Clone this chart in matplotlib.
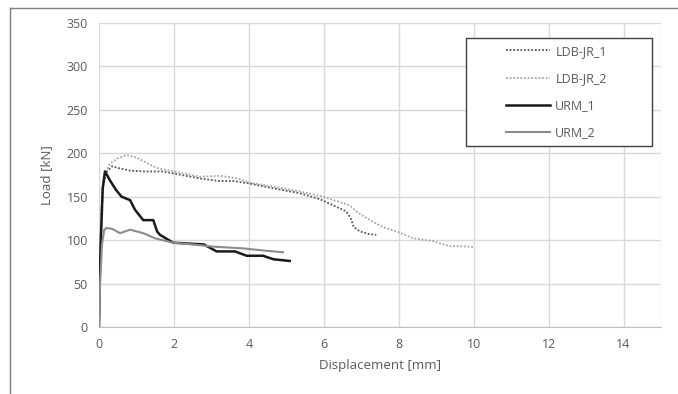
import matplotlib
matplotlib.use("Agg")
import matplotlib.pyplot as plt
from matplotlib.lines import Line2D
from matplotlib.patches import Rectangle

plt.rcParams['font.family'] = ['Open Sans', 'DejaVu Sans']

# LDB-JR_1
ldb1_x = [0, 0.02, 0.05, 0.1, 0.2, 0.35, 0.5, 0.83, 1.2, 1.71, 2.2, 2.69, 3.2, 3.6, 4.03, 4.6, 5.36, 5.9, 6.25, 6.6, 6.72, 6.8, 6.96, 7.2, 7.4]
ldb1_y = [0, 60, 120, 160, 178, 185, 183, 180, 179, 179, 175, 171, 168, 168, 165, 160, 154, 147, 140, 133, 125, 115, 110, 107, 106]
# LDB-JR_2
ldb2_x = [0, 0.03, 0.06, 0.12, 0.2, 0.29, 0.5, 0.74, 1.0, 1.54, 2.0, 2.69, 3.23, 3.7, 4.03, 4.6, 5.36, 5.98, 6.69, 6.9, 7.23, 7.58, 8.0, 8.38, 8.9, 9.36, 9.7, 9.98]
ldb2_y = [0, 70, 130, 165, 180, 188, 194, 198, 195, 183, 179, 173, 174, 171, 166, 162, 156, 150, 140, 132, 123, 115, 109, 102, 99, 93, 93, 92]
# URM_1
urm1_x = [0, 0.02, 0.05, 0.1, 0.16, 0.29, 0.45, 0.6, 0.83, 0.96, 1.18, 1.45, 1.55, 1.63, 1.98, 2.4, 2.8, 3.14, 3.63, 3.94, 4.38, 4.65, 5.09]
urm1_y = [0, 60, 100, 160, 179, 169, 158, 150, 146, 135, 123, 123, 110, 106, 97, 96, 95, 87, 87, 82, 82, 78, 76]
# URM_2
urm2_x = [0, 0.03, 0.08, 0.14, 0.2, 0.35, 0.56, 0.83, 1.18, 1.5, 1.98, 2.5, 3.05, 3.85, 4.4, 4.91]
urm2_y = [0, 50, 95, 112, 114, 113, 108, 112, 108, 102, 97, 95, 92.5, 90.5, 88, 86]

series_names = ['LDB-JR_1', 'LDB-JR_2', 'URM_1', 'URM_2']
x_ticks = [0, 2, 4, 6, 8, 10, 12, 14]
y_ticks = [0, 50, 100, 150, 200, 250, 300, 350]

W, H = 678, 394
fig = plt.figure(figsize=(W / 100, H / 100), dpi=100)
ax = fig.add_axes([0.146, 0.170, 0.829, 0.772])

txt = '#595959'
ax.plot(ldb1_x, ldb1_y, color='#555555', lw=1.3, ls=(0, (1, 1)), label=series_names[0])
ax.plot(ldb2_x, ldb2_y, color='#a6a6a6', lw=1.3, ls=(0, (1, 1)), label=series_names[1])
ax.plot(urm1_x, urm1_y, color='#1a1a1a', lw=1.8, label=series_names[2])
ax.plot(urm2_x, urm2_y, color='#8c8c8c', lw=1.5, label=series_names[3])

ax.set_xlim(0, 15)
ax.set_ylim(0, 350)
ax.set_xticks(x_ticks)
ax.set_yticks(y_ticks)
ax.grid(True, color='#d9d9d9', lw=1)
ax.axvline(15, color='#d9d9d9', lw=1)
ax.set_axisbelow(True)
for s in ['top', 'right', 'left']:
    ax.spines[s].set_visible(False)
ax.spines['bottom'].set_color('#bfbfbf')
ax.tick_params(length=0, colors=txt, labelsize=9, pad=8)
ax.set_xlabel('Displacement [mm]', color=txt, fontsize=9.5, labelpad=6)
ax.set_ylabel('Load [kN]', color=txt, fontsize=9.5, labelpad=10)

# legend box
fig.add_artist(Rectangle((466 / W, 1 - 146 / H), (652 - 466) / W, (146 - 38) / H,
                         transform=fig.transFigure, fill=True, facecolor='white',
                         edgecolor='#404040', lw=1.0, zorder=5))
leg = fig.legend(loc='center left', bbox_to_anchor=(506 / W, 1 - 92 / H), frameon=False,
                 fontsize=9, labelcolor=txt, handlelength=3.5, labelspacing=1.13,
                 borderpad=0, handletextpad=0.45, borderaxespad=0)
leg.set_zorder(6)

fig.add_artist(Line2D([10 / W, 10 / W], [0, 1 - 8 / H], color='#7f7f7f', lw=1, transform=fig.transFigure))
fig.add_artist(Line2D([10 / W, 1], [1 - 8 / H, 1 - 8 / H], color='#7f7f7f', lw=1, transform=fig.transFigure))

fig.savefig('out.png', dpi=100)
